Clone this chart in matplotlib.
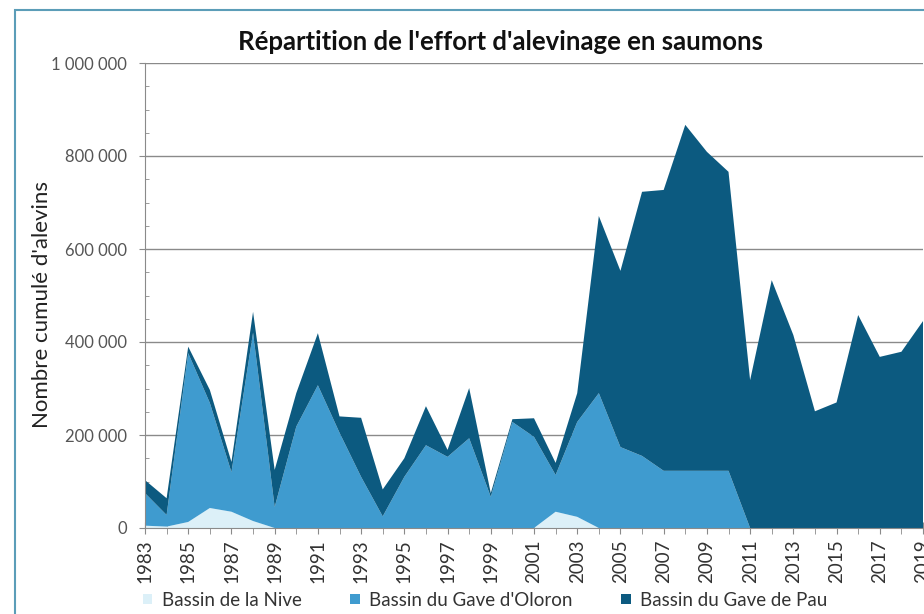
import matplotlib
matplotlib.use('Agg')
import matplotlib.pyplot as plt
from matplotlib.patches import Rectangle
from matplotlib.ticker import FuncFormatter, MultipleLocator, FixedLocator

# Alevins déversés par bassin (1983-2019)
annees = list(range(1983, 2020))

nive = [5000, 3000, 13000, 43000, 35000, 15000, 0, 0, 0, 0,
        0, 0, 0, 0, 0, 0, 0, 0, 0, 35000,
        24000, 0, 0, 0, 0, 0, 0, 0, 0, 0,
        0, 0, 0, 0, 0, 0, 0]

oloron = [70000, 25000, 363000, 226000, 85000, 405000, 45000, 218000, 307000, 205000,
          110000, 25000, 110000, 178000, 153000, 193000, 67000, 228000, 196000, 79000,
          204000, 290000, 174000, 155000, 123000, 123000, 123000, 123000, 0, 0,
          0, 0, 0, 0, 0, 0, 0]

pau = [28000, 36000, 14000, 28000, 22000, 45000, 80000, 72000, 112000, 35000,
       127000, 58000, 40000, 84000, 15000, 108000, 8000, 6000, 40000, 26000,
       62000, 381000, 379000, 568000, 604000, 744000, 686000, 643000, 318000, 533000,
       415000, 251000, 270000, 458000, 368000, 379000, 445000]

series = ["Bassin de la Nive", "Bassin du Gave d'Oloron", "Bassin du Gave de Pau"]
couleurs = ['#dcf0f8', '#3f9bcf', '#0c5a80']

plt.rcParams['font.family'] = ['Lato', 'DejaVu Sans']

fig = plt.figure(figsize=(9.24, 6.14), dpi=100)
ax = fig.add_axes([145 / 924, 1 - 528 / 614, 778 / 924, 465 / 614])

ax.stackplot(annees, nive, oloron, pau, colors=couleurs, labels=series,
             linewidth=0, zorder=2)

ax.set_xlim(1983, 2019)
ax.set_ylim(0, 1000000)

# axe des ordonnées
ax.yaxis.set_major_locator(MultipleLocator(200000))
ax.yaxis.set_minor_locator(MultipleLocator(50000))
ax.yaxis.set_major_formatter(FuncFormatter(lambda v, p: f"{int(v):,}".replace(',', ' ')))
ax.grid(axis='y', which='major', color='#8a8a8a', linewidth=1.0, zorder=1)
ax.tick_params(axis='y', which='major', direction='out', length=4, color='#8a8a8a',
               labelsize=12, labelcolor='#555555', pad=9)
ax.tick_params(axis='y', which='minor', direction='in', length=3, color='#8a8a8a')

# axe des abscisses : un trait par an, une étiquette tous les deux ans
ax.xaxis.set_major_locator(FixedLocator(annees[::2]))
ax.xaxis.set_minor_locator(FixedLocator(annees))
ax.set_xticklabels([str(a) for a in annees[::2]], rotation=90, fontsize=13.5,
                   color='#333333')
ax.tick_params(axis='x', which='both', direction='inout', length=8, color='#8a8a8a')
ax.tick_params(axis='x', which='major', pad=4)

for s in ['top', 'right']:
    ax.spines[s].set_visible(False)
for s in ['left', 'bottom']:
    ax.spines[s].set_color('#8a8a8a')
    ax.spines[s].set_zorder(3)

fig.text(42 / 924, 1 - 305 / 614, "Nombre cumulé d'alevins", rotation=90,
         fontsize=16, color='#222222', ha='center', va='center')

fig.text(500 / 924, 1 - 42 / 614, "Répartition de l'effort d'alevinage en saumons",
         fontsize=18.5, fontweight='bold', color='#111111', ha='center', va='center')

leg = ax.legend(loc='center left', bbox_to_anchor=(143 / 924, 1 - 600 / 614),
                bbox_transform=fig.transFigure, ncol=3, frameon=False,
                fontsize=13.5, handlelength=0.5, handleheight=0.5,
                handletextpad=0.5, columnspacing=2.6, borderpad=0, borderaxespad=0)
for t in leg.get_texts():
    t.set_color('#333333')

# cadre du graphique
fig.add_artist(Rectangle((15 / 924, -0.05), 1.0, 1.05 - 10 / 614, fill=False,
                         edgecolor='#5b9db8', linewidth=1.5,
                         transform=fig.transFigure))

fig.savefig('out.png', dpi=100)
